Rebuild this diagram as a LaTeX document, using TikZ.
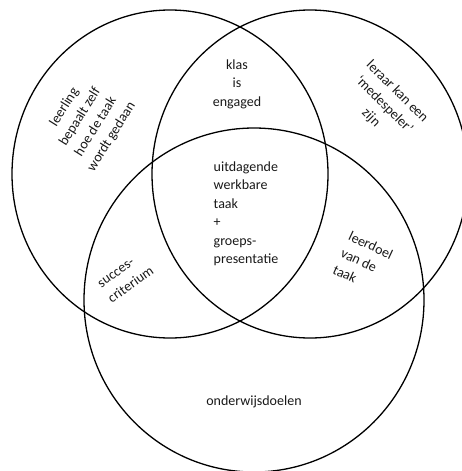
\documentclass[tikz,border=0pt]{standalone}
\usepackage{fontspec}
\setmainfont{Carlito}
\begin{document}
\begin{tikzpicture}[x=1pt,y=-1pt,
  ring/.style={line width=1.3pt, draw=black},
  lbl/.style={font=\fontsize{14}{18.5}\selectfont, align=center, inner sep=0pt, text=black!90}]
\useasboundingbox (0,0) rectangle (461,471);
\coordinate (L) at (170,174);
\coordinate (R) at (310,174);
\coordinate (B) at (254,300);
\draw[ring] (L) ellipse [x radius=158, y radius=164];
\draw[ring] (R) ellipse [x radius=158, y radius=164];
\draw[ring] (B) ellipse [x radius=170, y radius=172];
\node[lbl] (klas) at (237,84) {klas\\is\\engaged};
\node[lbl, align=left] (taak) at (246,214) {uitdagende\\werkbare\\taak\\+\\groeps-\\presentatie};
\node[lbl] (onderwijs) at (254,402) {onderwijsdoelen};
\node[lbl, rotate=58] (leerling) at (88,122) {leerling\\bepaalt zelf\\hoe de taak\\wordt gedaan};
\node[lbl, rotate=-45] (leraar) at (384,105) {leraar kan een\\‘medespeler’\\zijn};
\node[lbl, rotate=35, align=left] (succes) at (126,278) {succes-\\criterium};
\node[lbl, rotate=-25, align=left] (leerdoel) at (363,262) {leerdoel\\van de\\taak};
\end{tikzpicture}
\end{document}
